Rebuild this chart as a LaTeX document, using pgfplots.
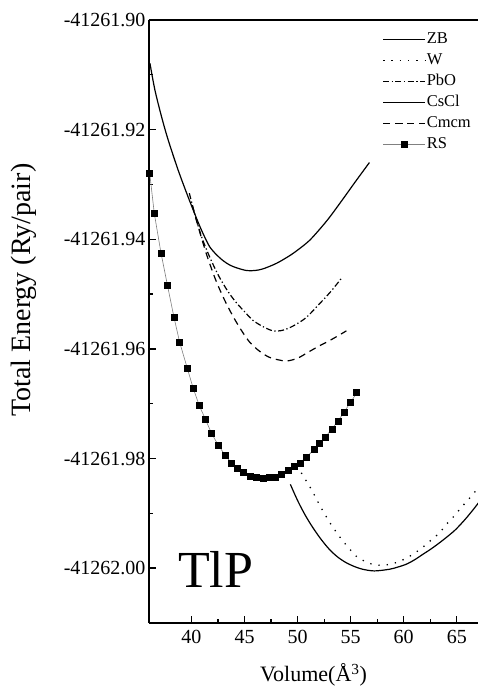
\documentclass[border=0pt]{standalone}
\usepackage{fontspec}
\setmainfont{Liberation Serif}
\usepackage{pgfplots}
\pgfplotsset{compat=1.18}

% Energies are stored relative to -41261 Ry so that the small range keeps
% full precision; the y tick labels carry the absolute values.

\begin{document}
\begin{tikzpicture}
\begin{axis}[
  scale only axis,
  width=329pt, height=603pt,
  xmin=36, xmax=67,
  ymin=-1.01, ymax=-0.90,
  axis x line*=bottom, axis y line*=left,
  axis line style={-, black, line width=1.2pt},
  xtick={40,45,50,55,60,65},
  minor x tick num=1,
  ytick={-1.00,-0.98,-0.96,-0.94,-0.92,-0.90},
  yticklabels={-41262.00,-41261.98,-41261.96,-41261.94,-41261.92,-41261.90},
  minor y tick num=1,
  tick align=inside,
  major tick length=7.5pt, minor tick length=4.5pt,
  major tick style={black, line width=1.4pt},
  minor tick style={black, line width=1.2pt},
  /pgf/number format/assume math mode=true,
  ticklabel style={font=\fontsize{20}{22}\selectfont},
  xticklabel style={yshift=-4pt},
  every axis x label/.style={at={(axis description cs:0.5,-0.086)}, anchor=center,
    font=\fontsize{22}{24}\selectfont},
  every axis y label/.style={at={(axis description cs:-0.38,0.552)}, rotate=90, anchor=center,
    font=\fontsize{28}{30}\selectfont},
  xlabel={Volume(Å\textsuperscript{3})},
  ylabel={Total Energy (Ry/pair)},
  legend cell align=left,
  legend image code/.code={\draw[mark repeat=2,mark phase=2,#1]
    plot coordinates {(0pt,0pt) (21pt,0pt) (42pt,0pt)};},
  legend style={draw=none, fill=none, at={(axis description cs:0.70,0.985)},
    anchor=north west, font=\fontsize{16.5}{18}\selectfont,
    row sep=5pt, column sep=1pt,
    nodes={inner sep=0pt, text height=12pt, text depth=4pt}},
]

% ZB
\addplot[black, line width=1.2pt, smooth] coordinates {
 (36.09,-0.9079) (36.56,-0.9128) (37.19,-0.9177) (37.81,-0.9219)
 (38.75,-0.9274) (39.69,-0.9323) (40.63,-0.9369) (41.20,-0.9394)
 (41.73,-0.9414) (42.35,-0.9428) (42.98,-0.9439) (43.61,-0.9447)
 (44.24,-0.9452) (45.18,-0.9457) (45.96,-0.9457) (46.74,-0.9454)
 (48.00,-0.9444) (49.25,-0.9430) (50.19,-0.9417) (51.13,-0.9402)
 (52.07,-0.9382) (53.01,-0.9360) (54.26,-0.9327) (55.52,-0.9293)
 (56.77,-0.9260)
};
\addlegendentry{ZB}

% W
\addplot[black, line width=1.3pt, smooth, dash pattern=on 1.3pt off 7pt] coordinates {
 (50.35,-0.9826) (51.29,-0.9856) (52.14,-0.9887) (53.08,-0.9918)
 (54.17,-0.9948) (55.52,-0.9978) (56.30,-0.9987) (57.08,-0.9993)
 (57.87,-0.9995) (58.65,-0.9993) (59.43,-0.9989) (60.22,-0.9982)
 (61.00,-0.9973) (61.78,-0.9962) (62.57,-0.9949) (63.35,-0.9936)
 (64.07,-0.9919) (64.79,-0.9904) (65.48,-0.9888) (66.17,-0.9873)
 (66.92,-0.9856) (67.50,-0.9843)
};
\addlegendentry{W}

% PbO
\addplot[black, line width=1.2pt, smooth,
  dash pattern=on 6pt off 2.5pt on 1.3pt off 2.5pt] coordinates {
 (39.8,-0.9316) (40.4,-0.9360) (41.0,-0.9398) (41.8,-0.9436)
 (42.6,-0.9468) (43.4,-0.9494) (44.2,-0.9515) (45.0,-0.9532)
 (45.8,-0.9548) (46.8,-0.9560) (47.7,-0.9567) (48.6,-0.9566)
 (49.6,-0.9558) (50.8,-0.9543) (52.0,-0.9519) (53.1,-0.9496)
 (54.1,-0.9472)
};
\addlegendentry{PbO}

% CsCl
\addplot[black, line width=1.2pt, smooth] coordinates {
 (49.32,-0.9847) (49.75,-0.9866) (50.19,-0.9884) (50.80,-0.9906)
 (51.44,-0.9926) (52.20,-0.9947) (53.01,-0.9966) (53.80,-0.9980)
 (54.58,-0.9990) (55.36,-0.9997) (56.14,-1.0002) (57.24,-1.0005)
 (58.65,-1.0002) (59.44,-0.9998) (60.22,-0.9993) (61.00,-0.9985)
 (61.78,-0.9975) (62.57,-0.9965) (63.35,-0.9954) (64.14,-0.9942)
 (64.92,-0.9929) (65.92,-0.9908) (66.92,-0.9884) (67.50,-0.9868)
};
\addlegendentry{CsCl}

% Cmcm
\addplot[black, line width=1.2pt, smooth, dash pattern=on 7pt off 5pt] coordinates {
 (40.1,-0.9340) (40.8,-0.9388) (41.5,-0.9432) (42.3,-0.9475)
 (43.1,-0.9510) (43.9,-0.9540) (44.7,-0.9566) (45.5,-0.9588)
 (46.4,-0.9604) (47.3,-0.9615) (48.2,-0.9620) (49.0,-0.9622)
 (50.0,-0.9617) (51.0,-0.9606) (52.0,-0.9595) (53.0,-0.9585)
 (54.0,-0.9574) (54.6,-0.9567)
};
\addlegendentry{Cmcm}

% RS
\addplot[gray, line width=0.6pt, mark=square*, mark size=3pt,
  mark options={solid, fill=black, draw=black}] coordinates {
 (36.07,-0.9280) (36.50,-0.9353) (37.13,-0.9425) (37.74,-0.9484)
 (38.35,-0.9542) (38.89,-0.9588) (39.62,-0.9636) (40.15,-0.9671)
 (40.73,-0.9703) (41.33,-0.9729) (41.89,-0.9754) (42.51,-0.9775)
 (43.17,-0.9794) (43.77,-0.9808) (44.30,-0.9818) (44.93,-0.9825)
 (45.52,-0.9832) (46.12,-0.9835) (46.74,-0.9836) (47.33,-0.9835)
 (47.91,-0.9834) (48.50,-0.9829) (49.16,-0.9822) (49.72,-0.9815)
 (50.22,-0.9808) (50.85,-0.9797) (51.54,-0.9784) (52.07,-0.9773)
 (52.61,-0.9761) (53.23,-0.9746) (53.79,-0.9732) (54.39,-0.9715)
 (55.01,-0.9697) (55.58,-0.9680)
};
\addlegendentry{RS}

% top side of the frame
\draw[black, line width=1.2pt] (rel axis cs:0,1) -- (rel axis cs:1,1);

\node[anchor=base west, inner sep=0pt, font=\fontsize{52}{52}\selectfont]
  at (axis cs:38.73,-1.0035) {TlP};
\end{axis}
\pgfresetboundingbox
\useasboundingbox (-149pt,-68pt) rectangle (329pt,623pt);
\end{tikzpicture}
\end{document}
